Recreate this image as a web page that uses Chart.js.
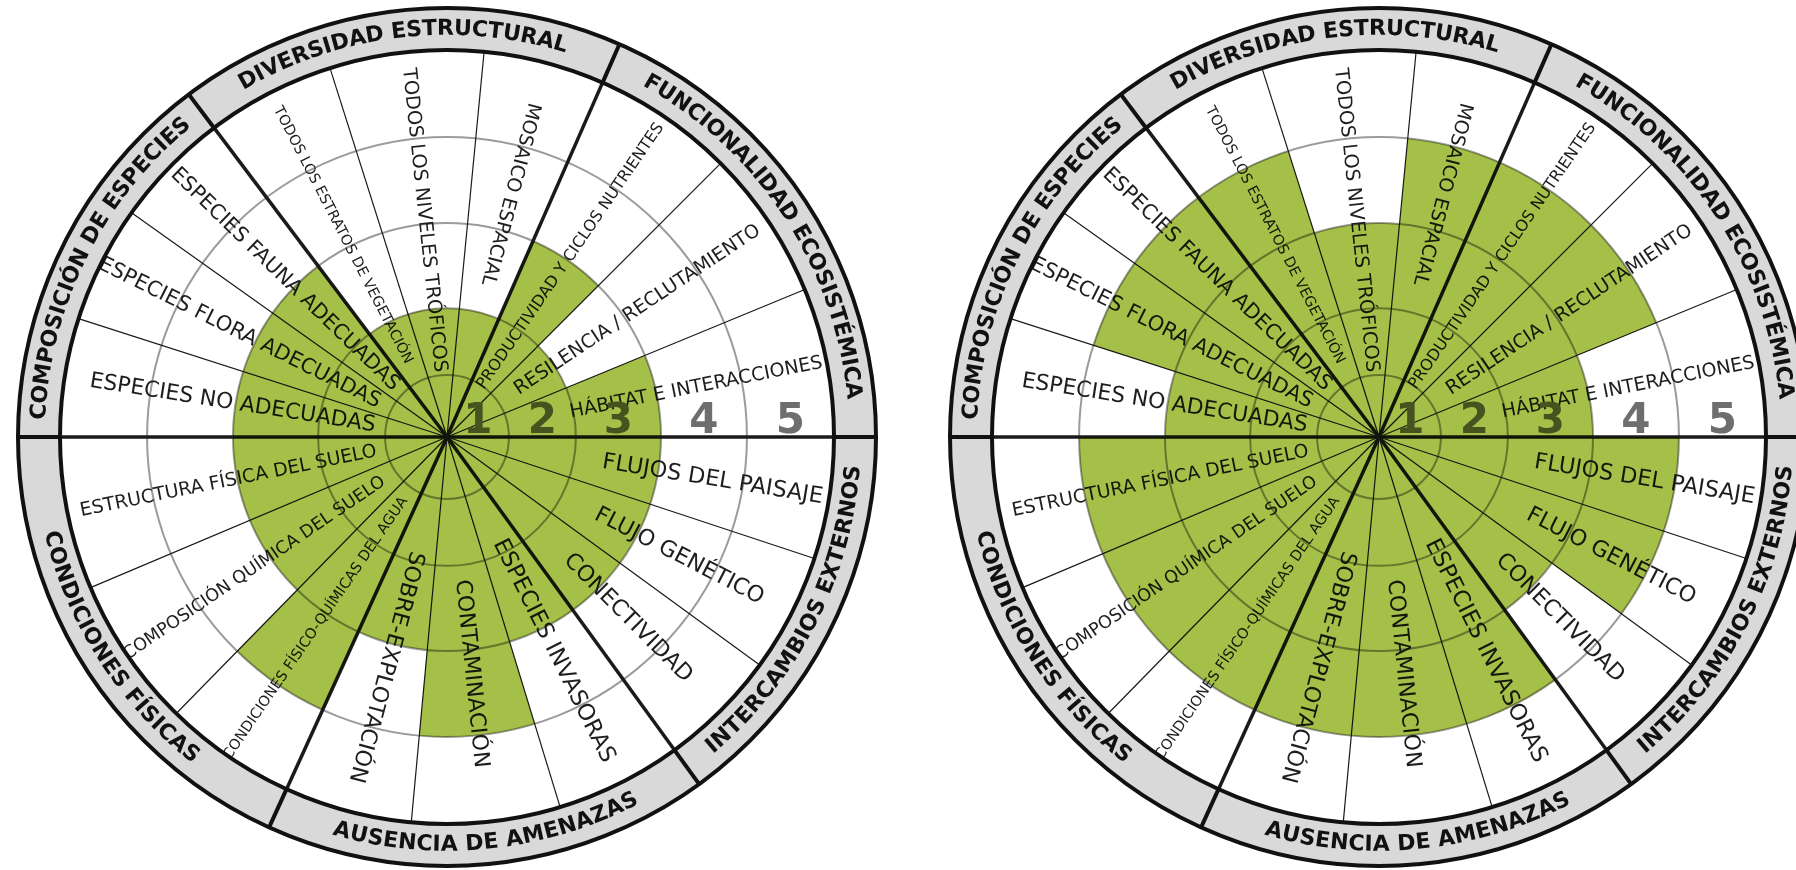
<!DOCTYPE html>
<html lang="es">
<head>
<meta charset="UTF-8">
<title>Rueda de recuperación</title>
<script src="https://cdn.jsdelivr.net/npm/chart.js"></script>
<style>
  body { margin: 0; background: #fff; overflow: hidden; }
  canvas { position: absolute; top: 0; }
  #izq { left: 0; }
  #der { left: 932px; }
</style>
</head>
<body>
<canvas id="izq" width="894" height="870"></canvas>
<canvas id="der" width="864" height="870"></canvas>
<script>
// sectores en sentido horario desde las 3 en punto
const sectors = [
  'FLUJOS DEL PAISAJE', 'FLUJO GENÉTICO', 'CONECTIVIDAD',
  'ESPECIES INVASORAS', 'CONTAMINACIÓN', 'SOBRE-EXPLOTACIÓN',
  'CONDICIONES FÍSICO-QUÍMICAS DEL AGUA', 'COMPOSICIÓN QUÍMICA DEL SUELO', 'ESTRUCTURA FÍSICA DEL SUELO',
  'ESPECIES NO ADECUADAS', 'ESPECIES FLORA ADECUADAS', 'ESPECIES FAUNA ADECUADAS',
  'TODOS LOS ESTRATOS DE VEGETACIÓN', 'TODOS LOS NIVELES TRÓFICOS', 'MOSAICO ESPACIAL',
  'PRODUCTIVIDAD Y CICLOS NUTRIENTES', 'RESILENCIA / RECLUTAMIENTO', 'HÁBITAT E INTERACCIONES'
];
const groups = ['INTERCAMBIOS EXTERNOS', 'AUSENCIA DE AMENAZAS', 'CONDICIONES FÍSICAS',
  'COMPOSICIÓN DE ESPECIES', 'DIVERSIDAD ESTRUCTURAL', 'FUNCIONALIDAD ECOSISTÉMICA'];
const valuesLeft  = [3, 3, 3, 3, 4, 3, 4, 3, 3, 3, 3, 3, 2, 2, 2, 3, 2, 3];
const valuesRight = [4, 4, 3, 4, 4, 4, 4, 4, 4, 3, 4, 4, 4, 3, 4, 4, 4, 3];
const levelLabels = ['1', '2', '3', '4', '5'];
// ancho angular de cada sector (grados)
const sectorWidths = [18.3, 17.8, 17.9, 19, 22.3, 19.2, 19.9, 22.7, 22.9,
  17.8, 17.6, 17.6, 19.4, 23.1, 18.2, 21.3, 22.6, 22.4];

// maquetación de los textos (px)
const labelRadius = [269, 261, 256, 239, 238, 238, 232, 233, 223, 217, 232, 226, 227, 218, 251, 219, 229, 254];
const labelLength = [223, 187, 172, 247, 189, 239, 314, 312, 302, 289, 313, 310, 288, 305, 188, 318, 292, 257];
// los anillos no son equidistantes en el original
const ringFractions = [0, 0.160, 0.333, 0.553, 0.775, 1];

const GREEN = '#a5c048';
const FONT = '"DejaVu Sans", Verdana, sans-serif';

const Base = Chart.RadialLinearScale || Chart.registry.getScale('radialLinear');
class BandScale extends Base {
  static id = 'bandRadial';
  getDistanceFromCenterForValue(value) {
    if (value === null || value === undefined) return NaN;
    const v = Math.max(0, Math.min(5, value));
    const i = Math.min(4, Math.floor(v));
    const f = ringFractions[i] + (ringFractions[i + 1] - ringFractions[i]) * (v - i);
    return f * this.drawingArea;
  }
}
Chart.register(BandScale);

function arcText(ctx, text, cx, cy, r, mid, topOut) {
  const dir = topOut ? 1 : -1;
  const total = ctx.measureText(text).width;
  let a = mid - dir * total / 2 / r;
  for (const ch of text) {
    const w = ctx.measureText(ch).width;
    const ac = a + dir * w / 2 / r;
    ctx.save();
    ctx.translate(cx + r * Math.cos(ac), cy + r * Math.sin(ac));
    ctx.rotate(ac + dir * Math.PI / 2);
    ctx.fillText(ch, 0, 0);
    ctx.restore();
    a += dir * w / r;
  }
}

const wheelPlugin = {
  id: 'rueda',
  beforeDraw(chart) {
    const ctx = chart.ctx;
    ctx.save();
    ctx.fillStyle = '#fff';
    ctx.fillRect(0, 0, chart.width, chart.height);
    ctx.restore();
  },
  beforeDatasetsDraw(chart) {
    const ctx = chart.ctx, s = chart.scales.r, arcs = chart.getDatasetMeta(0).data;
    const cx = s.xCenter, cy = s.yCenter, R = s.drawingArea;
    ctx.save();
    // líneas de sectores
    arcs.forEach((a, i) => {
      const thick = i % 3 === 0;
      ctx.beginPath();
      ctx.moveTo(cx, cy);
      ctx.lineTo(cx + R * Math.cos(a.startAngle), cy + R * Math.sin(a.startAngle));
      ctx.lineWidth = thick ? 3.5 : 1.2;
      ctx.strokeStyle = '#1a1a1a';
      ctx.stroke();
    });
    // nombres de sectores
    ctx.fillStyle = '#1e1e1e';
    ctx.textAlign = 'center';
    ctx.textBaseline = 'middle';
    arcs.forEach((a, i) => {
      const mid = (a.startAngle + a.endAngle) / 2;
      let deg = (-mid * 180 / Math.PI) % 360;
      if (deg < 0) deg += 360;
      const flip = deg > 65 && deg < 245;
      ctx.font = '20px ' + FONT;
      const size = 20 * labelLength[i] / ctx.measureText(sectors[i]).width;
      ctx.font = size.toFixed(1) + 'px ' + FONT;
      ctx.save();
      ctx.translate(cx, cy);
      if (flip) {
        ctx.rotate(mid + Math.PI);
        ctx.fillText(sectors[i], -labelRadius[i], 0);
      } else {
        ctx.rotate(mid);
        ctx.fillText(sectors[i], labelRadius[i], 0);
      }
      ctx.restore();
    });
    // números de nivel
    ctx.font = 'bold 42px ' + FONT;
    ctx.fillStyle = '#6e6e6e';
    ctx.textBaseline = 'alphabetic';
    levelLabels.forEach((t, i) => {
      ctx.fillText(t, cx + s.getDistanceFromCenterForValue(i + 0.5), cy - 4);
    });
    ctx.restore();
    ctx.globalCompositeOperation = 'multiply';
  },
  afterDatasetsDraw(chart) {
    chart.ctx.globalCompositeOperation = 'source-over';
  },
  afterDraw(chart) {
    const ctx = chart.ctx, s = chart.scales.r, arcs = chart.getDatasetMeta(0).data;
    const cx = s.xCenter, cy = s.yCenter, R = s.drawingArea, RO = R + 42;
    ctx.save();
    ctx.beginPath();
    ctx.arc(cx, cy, RO, 0, 2 * Math.PI);
    ctx.arc(cx, cy, R, 0, 2 * Math.PI, true);
    ctx.fillStyle = '#d9d9d9';
    ctx.fill();
    ctx.strokeStyle = '#111';
    ctx.lineWidth = 4;
    [R, RO].forEach(r => { ctx.beginPath(); ctx.arc(cx, cy, r, 0, 2 * Math.PI); ctx.stroke(); });
    for (let g = 0; g < groups.length; g++) {
      const a = arcs[g * 3].startAngle;
      ctx.beginPath();
      ctx.moveTo(cx + R * Math.cos(a), cy + R * Math.sin(a));
      ctx.lineTo(cx + RO * Math.cos(a), cy + RO * Math.sin(a));
      ctx.stroke();
    }
    ctx.font = 'bold 22px ' + FONT;
    ctx.fillStyle = '#111';
    ctx.textAlign = 'center';
    ctx.textBaseline = 'middle';
    for (let g = 0; g < groups.length; g++) {
      const mid = (arcs[g * 3].startAngle + arcs[g * 3 + 2].endAngle) / 2;
      arcText(ctx, groups[g], cx, cy, (R + RO) / 2, mid, Math.sin(mid) < 0);
    }
    ctx.restore();
  }
};

function makeWheel(id, values, padRight) {
  new Chart(document.getElementById(id), {
    type: 'polarArea',
    data: {
      labels: sectors,
      datasets: [{
        data: values,
        backgroundColor: GREEN,
        borderWidth: 0,
        angle: c => sectorWidths[c.dataIndex]
      }]
    },
    options: {
      responsive: false,
      animation: false,
      layout: { padding: { left: 60, right: padRight, top: 50, bottom: 46 } },
      plugins: { legend: { display: false }, tooltip: { enabled: false } },
      scales: {
        r: {
          type: 'bandRadial',
          min: 0,
          max: 5,
          startAngle: 90,
          ticks: { display: false, stepSize: 1 },
          grid: { color: '#9b9b9b', lineWidth: 2 },
          angleLines: { display: false },
          pointLabels: { display: false }
        }
      }
    },
    plugins: [wheelPlugin]
  });
}

makeWheel('izq', valuesLeft, 60);
makeWheel('der', valuesRight, 30);
</script>
</body>
</html>
